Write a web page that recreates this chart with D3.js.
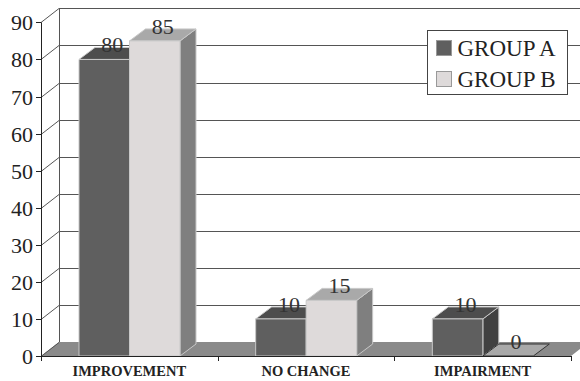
<!DOCTYPE html>
<html>
<head>
<meta charset="utf-8">
<script src="https://cdn.jsdelivr.net/npm/d3@7"></script>
<style>
  html, body { margin: 0; padding: 0; background: #fff; }
  svg { display: block; font-family: "Times New Roman", "Liberation Serif", serif; }
</style>
</head>
<body>
<svg id="chart" width="580" height="381"></svg>
<script>
// Outcome categories and the two groups compared
const categories = ["IMPROVEMENT", "NO CHANGE", "IMPAIRMENT"];
const seriesNames = ["GROUP A", "GROUP B"];
const groupA = [80, 10, 10];
const groupB = [85, 15, 0];
const yTicks = [0, 10, 20, 30, 40, 50, 60, 70, 80, 90];

const palette = {
  "GROUP A": { front: "#5f5f5f", top: "#4d4d4d", side: "#404040" },
  "GROUP B": { front: "#dedada", top: "#a9a9a9", side: "#7f7f7f" }
};

const svg = d3.select("#chart");

// Front plane geometry and the depth offset of the walls / bars
const plotLeft = 41, plotRight = 571, plotBottom = 356, plotTop = 22.4;
const wallDx = 18, wallDy = -14;
const barDx = 16, barDy = -12;

const y = d3.scaleLinear().domain([0, 90]).range([plotBottom, plotTop]);
const x = d3.scaleBand().domain(categories).range([plotLeft, plotRight]);
const xSub = d3.scaleBand().domain(seriesNames).range([38, 139]);

const rows = categories.map((c, i) => ({ cat: c, values: [groupA[i], groupB[i]] }));

// Floor
svg.append("polygon")
  .attr("points", [[plotLeft, plotBottom], [plotRight, plotBottom], [plotRight + wallDx, plotBottom + wallDy], [plotLeft + wallDx, plotBottom + wallDy]].join(" "))
  .attr("fill", "#8a8a8a");

// Back wall gridlines and left wall diagonals
const grid = svg.append("g").attr("stroke", "#555").attr("stroke-width", 1).attr("fill", "none");
yTicks.forEach(t => {
  const yf = Math.round(y(t)) + 0.5;
  const yb = Math.round(y(t) + wallDy) + 0.5;
  if (t > 0) {
    grid.append("line").attr("x1", plotLeft + wallDx).attr("x2", 580).attr("y1", yb).attr("y2", yb);
  }
  grid.append("line").attr("x1", plotLeft).attr("y1", yf).attr("x2", plotLeft + wallDx).attr("y2", yb);
});
grid.append("line")
  .attr("x1", plotLeft + wallDx + 0.5).attr("x2", plotLeft + wallDx + 0.5)
  .attr("y1", Math.round(y(0) + wallDy)).attr("y2", Math.round(y(90) + wallDy));

// 3D bars
const bars = svg.append("g");
rows.forEach(r => {
  seriesNames.forEach((s, j) => {
    const v = r.values[j];
    const col = palette[s];
    const x0 = x(r.cat) + xSub(s);
    const x1 = x0 + xSub.bandwidth();
    const y0 = y(0), y1 = y(v);
    const g = bars.append("g").attr("stroke", "#c8c8c8").attr("stroke-width", 1).attr("stroke-linejoin", "round");
    if (v > 0) {
      g.append("polygon")
        .attr("points", [[x1, y1], [x1 + barDx, y1 + barDy], [x1 + barDx, y0 + barDy], [x1, y0]].join(" "))
        .attr("fill", col.side);
      g.append("polygon")
        .attr("points", [[x0, y1], [x0 + barDx, y1 + barDy], [x1 + barDx, y1 + barDy], [x1, y1]].join(" "))
        .attr("fill", col.top);
      g.append("rect")
        .attr("x", x0).attr("y", y1).attr("width", x1 - x0).attr("height", y0 - y1)
        .attr("fill", col.front);
    } else {
      g.append("polygon")
        .attr("points", [[x0, y1], [x0 + barDx, y1 + barDy], [x1 + barDx, y1 + barDy], [x1, y1]].join(" "))
        .attr("fill", col.top).attr("stroke", "#333");
    }
    // value label sits on the top face
    svg.append("text")
      .attr("x", (x0 + x1) / 2 + barDx / 2)
      .attr("y", y1 + barDy / 2 - 1)
      .attr("text-anchor", "middle")
      .attr("font-size", 22)
      .attr("fill", "#333")
      .text(v);
  });
});

// Value axis
const yAxis = svg.append("g").attr("stroke", "#222");
yAxis.append("line").attr("x1", plotLeft + 0.5).attr("x2", plotLeft + 0.5).attr("y1", y(90)).attr("y2", plotBottom + 5);
yTicks.forEach(t => {
  const yy = Math.round(y(t)) + 0.5;
  yAxis.append("line").attr("x1", plotLeft - 5).attr("x2", plotLeft).attr("y1", yy).attr("y2", yy);
  svg.append("text")
    .attr("x", 33).attr("y", yy + 7.5)
    .attr("text-anchor", "end")
    .attr("font-size", 22)
    .attr("fill", "#222")
    .text(t);
});

// Category axis
const xAxis = svg.append("g").attr("stroke", "#222");
xAxis.append("line").attr("x1", plotLeft).attr("x2", plotRight).attr("y1", plotBottom + 0.5).attr("y2", plotBottom + 0.5);
categories.forEach(c => {
  const xe = Math.round(x(c) + x.bandwidth()) + 0.5;
  xAxis.append("line").attr("x1", xe).attr("x2", xe).attr("y1", plotBottom).attr("y2", plotBottom + 5);
  svg.append("text")
    .attr("x", x(c) + x.bandwidth() / 2)
    .attr("y", 376)
    .attr("text-anchor", "middle")
    .attr("font-size", 14.5)
    .attr("font-weight", "bold")
    .attr("fill", "#222")
    .text(c);
});

// Legend
const legend = svg.append("g").attr("transform", "translate(427.5,30.5)");
legend.append("rect").attr("width", 140).attr("height", 64).attr("fill", "#fff").attr("stroke", "#444");
seriesNames.forEach((s, i) => {
  const row = legend.append("g").attr("transform", `translate(9,${10 + i * 31})`);
  row.append("rect").attr("width", 15).attr("height", 15).attr("fill", palette[s].front).attr("stroke", "#999");
  row.append("text").attr("x", 21).attr("y", 15.5).attr("font-size", 23).attr("fill", "#222").text(s);
});
</script>
</body>
</html>
